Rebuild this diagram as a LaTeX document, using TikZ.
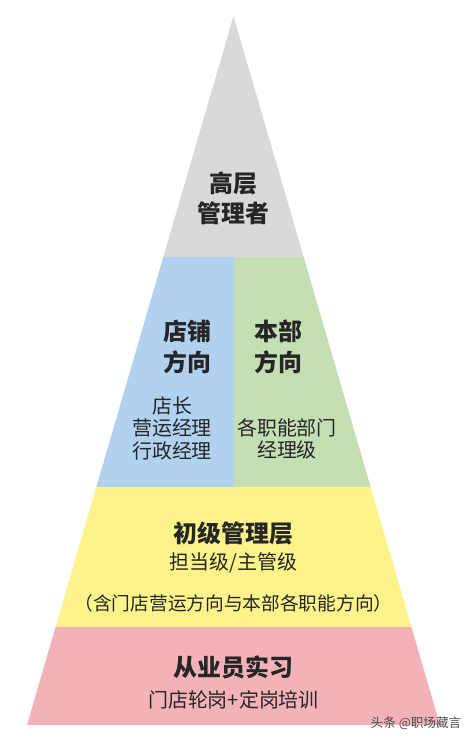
\documentclass[tikz,border=0pt]{standalone}
\usepackage{fontspec}
\usepackage{xcolor}
\newfontfamily\cjk{Noto Sans CJK SC}[BoldFont={Noto Sans CJK SC Black}]
\usetikzlibrary{positioning,calc}

\definecolor{topgray}{HTML}{D9D9D9}
\definecolor{shopblue}{HTML}{B0D2F0}
\definecolor{hqgreen}{HTML}{C5DFB5}
\definecolor{juniorye}{HTML}{FCF38A}
\definecolor{internpk}{HTML}{F2B2B8}

\begin{document}
\begin{tikzpicture}[
							title/.style={font=\cjk\bfseries\fontsize{17}{20}\selectfont, align=center, text=black!85},
							body/.style={font=\cjk\fontsize{14.2}{16}\selectfont, align=center, text=black!85},
							note/.style={font=\cjk\fontsize{13.3}{15}\selectfont, align=center, text=black!85}
							]
							\useasboundingbox (0,0) rectangle (11.775,18.525);
							
							% ===== PYRAMID OUTLINE =====
							\coordinate (apex)  at (5.8375,18.12);
							\coordinate (baseL) at (0.675,0.4);
							\coordinate (baseR) at (11.0,0.4);
							
							% ===== BANDS (clipped to triangle) =====
							\begin{scope}
								\clip (apex) -- (baseL) -- (baseR) -- cycle;
								\fill[topgray]  (0,12.1)    rectangle (11.775,18.525);
								\fill[shopblue] (0,6.35)    rectangle (5.8375,12.1);
								\fill[hqgreen]  (5.8375,6.35) rectangle (11.775,12.1);
								\fill[juniorye] (0,2.85)    rectangle (11.775,6.35);
								\fill[internpk] (0,0.4)     rectangle (11.775,2.85);
							\end{scope}
							
							% ===== TOP =====
							\node[title] (top) at (5.8375,13.575) {高层\\[1.5pt]管理者};
							
							% ===== MIDDLE (shop + head office) =====
							\node[title] (shop) at (4.675,9.85) {店铺\\[2pt]方向};
							\node[title] (hq)   at (6.95,9.85)  {本部\\[2pt]方向};
							
							\node[body] (shopRoles) at (4.3,7.825)  {店长\\营运经理\\行政经理};
							\node[body] (hqRoles)   at (7.175,7.55) {各职能部门\\经理级};
							
							% ===== JUNIOR =====
							\node[title] (junior)     at (5.8375,5.2)  {初级管理层};
							\node[body]  (juniorLvl)  at (5.8375,4.45) {担当级/主管级};
							\node[note]  (juniorNote) at (5.8375,3.45) {（含门店营运方向与本部各职能方向）};
							
							% ===== INTERN =====
							\node[title] (intern)    at (5.8375,1.85)  {从业员实习};
							\node[body]  (internLvl) at (5.8375,1.025) {门店轮岗+定岗培训};
							
							% watermark
							\node[font=\cjk\fontsize{9}{10}\selectfont, text=black!70] (wm) at (10.4,0.45) {头条 @职场藏言};
							
						\end{tikzpicture}
\end{document}
